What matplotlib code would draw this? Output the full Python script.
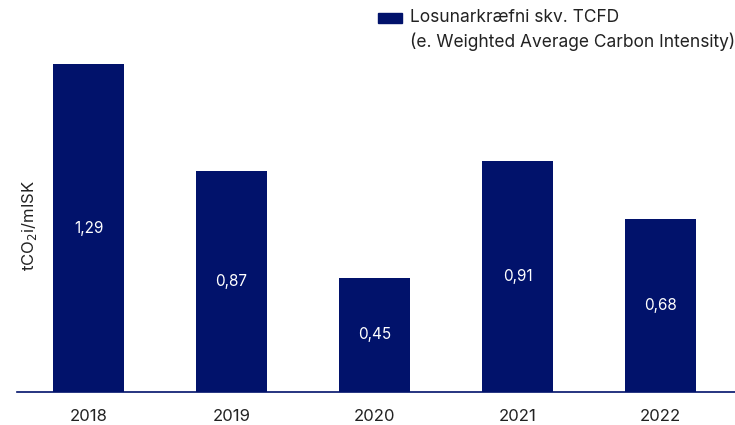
import matplotlib.pyplot as plt
from matplotlib.patches import Rectangle

years = ['2018', '2019', '2020', '2021', '2022']
intensity = [1.29, 0.87, 0.45, 0.91, 0.68]
value_labels = ['1,29', '0,87', '0,45', '0,91', '0,68']
legend_lines = ['Losunarkræfni skv. TCFD', '(e. Weighted Average Carbon Intensity)']

navy = '#01126b'
text_color = '#222222'
plt.rcParams['font.family'] = ['Inter', 'DejaVu Sans']

fig = plt.figure(figsize=(7.35, 4.25), dpi=100)
ax = fig.add_axes([17 / 735, 1 - 392 / 425, 1 - 17 / 735, (392 - 20) / 425])

x = range(len(years))
ax.bar(x, intensity, width=0.5, color=navy)

# value labels in the middle of each bar
for xi, v, lab in zip(x, intensity, value_labels):
    ax.text(xi, v / 2, lab, ha='center', va='center', color='white', fontsize=11)

ax.set_xlim(-0.5, 4.52)
ax.set_ylim(0, (392 - 20) / 254)
ax.set_xticks(list(x))
ax.set_xticklabels(years, fontsize=12, color=text_color)
ax.tick_params(axis='x', length=0, pad=12)
ax.set_yticks([])

for side in ['top', 'right', 'left']:
    ax.spines[side].set_visible(False)
ax.spines['bottom'].set_color(navy)
ax.spines['bottom'].set_linewidth(1.2)

fig.text(30 / 735, 1 - 226 / 425, 'tCO$_2$i/mISK', rotation=90, ha='center', va='center',
         fontsize=12, color=text_color)

# legend drawn by hand so the patch sits next to the first line
fig.add_artist(Rectangle((378 / 735, 1 - 23 / 425), 24 / 735, 10 / 425,
                         transform=fig.transFigure, color=navy))
fig.text(410 / 735, 1 - 18 / 425, legend_lines[0], ha='left', va='center',
         fontsize=12.5, color=text_color)
fig.text(410 / 735, 1 - 42 / 425, legend_lines[1], ha='left', va='center',
         fontsize=12.5, color=text_color)

fig.savefig('out.png', dpi=100, facecolor='white')
